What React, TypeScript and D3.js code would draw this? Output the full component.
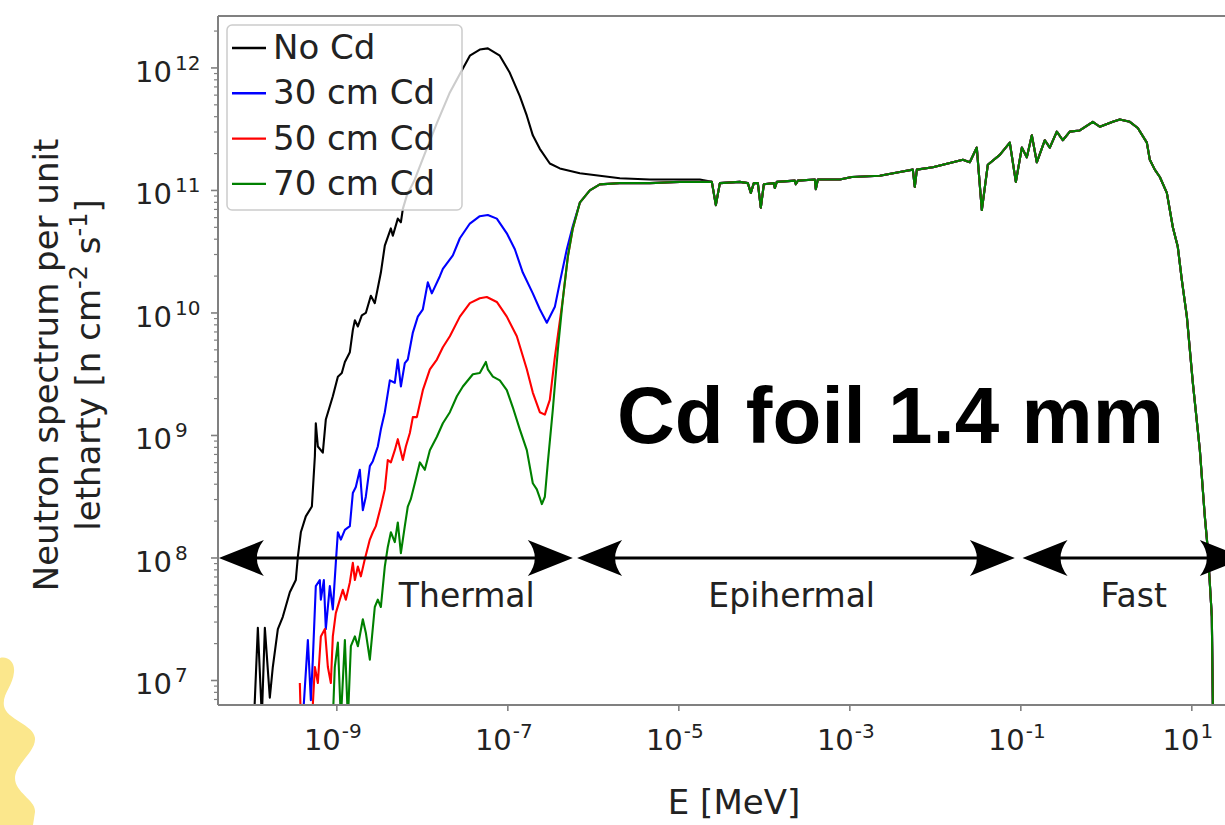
import React from 'react';
import * as d3 from 'd3';

const width = 1225;
const height = 825;
// plot frame in px (right edge runs past the page edge, like the cropped figure)
const frame = { left: 218, right: 1232, top: 16, bottom: 705 };

// axis limits, log10 units
const xLimLog = [-10.39, 1.47];
const yLimLog = [6.8, 12.424];

const seriesNames = ['No Cd', '30 cm Cd', '50 cm Cd', '70 cm Cd'];
const seriesColors = ['#000000', '#0000ff', '#ff0000', '#008000'];

// thermal part of each spectrum, log10(E [MeV]) and log10(flux)
const noCdLogE = [-9.97, -9.924, -9.877, -9.842, -9.784, -9.749, -9.69, -9.632, -9.55, -9.48, -9.456, -9.421, -9.363, -9.292, -9.257, -9.246, -9.222, -9.164, -9.129, -9.047, -8.988, -8.942, -8.906, -8.848, -8.813, -8.789, -8.754, -8.708, -8.661, -8.602, -8.556, -8.485, -8.439, -8.368, -8.345, -8.287, -8.251, -8.228, -8.181, -8.088, -7.994, -7.83, -7.678, -7.561, -7.444, -7.328, -7.234, -7.094, -6.977, -6.86, -6.778, -6.708, -6.626, -6.509, -6.392, -6.158, -5.924, -5.69, -5.339, -4.755];
const noCdLogPhi = [6.66, 7.43, 6.7, 7.43, 6.86, 7.11, 7.42, 7.52, 7.72, 7.82, 8.01, 8.21, 8.34, 8.42, 8.83, 9.1, 8.91, 8.86, 9.13, 9.32, 9.48, 9.51, 9.6, 9.68, 9.86, 9.94, 9.89, 9.98, 10.0, 10.14, 10.08, 10.33, 10.55, 10.69, 10.63, 10.77, 10.74, 10.85, 10.96, 11.09, 11.26, 11.55, 11.8, 11.95, 12.1, 12.15, 12.16, 12.1, 11.96, 11.77, 11.61, 11.45, 11.34, 11.22, 11.18, 11.14, 11.12, 11.1, 11.09, 11.09];

const cd30LogE = [-9.398, -9.339, -9.304, -9.281, -9.246, -9.199, -9.187, -9.152, -9.129, -9.082, -9.047, -9.012, -8.988, -8.953, -8.906, -8.848, -8.813, -8.778, -8.731, -8.696, -8.661, -8.614, -8.579, -8.521, -8.485, -8.439, -8.38, -8.322, -8.287, -8.251, -8.205, -8.17, -8.111, -8.053, -7.994, -7.936, -7.889, -7.795, -7.76, -7.643, -7.561, -7.444, -7.328, -7.234, -7.129, -7.012, -6.918, -6.825, -6.708, -6.626, -6.544, -6.45, -6.392, -6.31, -6.24, -6.158, -6.041];
const cd30LogPhi = [6.68, 7.33, 6.84, 7.17, 7.77, 7.82, 7.66, 7.82, 7.42, 7.77, 7.58, 7.96, 8.21, 8.15, 8.23, 8.26, 8.53, 8.58, 8.72, 8.39, 8.5, 8.75, 8.79, 8.91, 9.05, 9.19, 9.45, 9.43, 9.62, 9.4, 9.59, 9.62, 9.84, 9.97, 10.03, 10.25, 10.16, 10.3, 10.36, 10.47, 10.61, 10.73, 10.79, 10.8, 10.77, 10.65, 10.52, 10.33, 10.16, 10.03, 9.92, 10.05, 10.25, 10.52, 10.71, 10.9, 11.0];

const cd50LogE = [-9.433, -9.421, -9.292, -9.257, -9.222, -9.187, -9.14, -9.105, -9.07, -9.047, -9.012, -8.965, -8.93, -8.895, -8.848, -8.813, -8.789, -8.754, -8.719, -8.673, -8.614, -8.579, -8.544, -8.485, -8.439, -8.404, -8.368, -8.322, -8.287, -8.228, -8.193, -8.146, -8.111, -8.064, -7.994, -7.912, -7.83, -7.76, -7.678, -7.561, -7.444, -7.328, -7.246, -7.129, -7.012, -6.895, -6.778, -6.708, -6.626, -6.567, -6.509, -6.45, -6.357, -6.298, -6.24, -6.158, -6.041];
const cd50LogPhi = [6.98, 6.68, 6.66, 7.11, 6.98, 7.36, 7.42, 7.11, 6.98, 7.36, 7.55, 7.66, 7.74, 7.66, 7.8, 7.96, 7.82, 7.93, 7.85, 7.99, 8.15, 8.21, 8.26, 8.42, 8.56, 8.8, 8.78, 8.88, 8.97, 8.8, 8.91, 9.02, 9.15, 9.15, 9.37, 9.54, 9.62, 9.72, 9.81, 9.97, 10.08, 10.12, 10.13, 10.09, 9.97, 9.81, 9.54, 9.35, 9.19, 9.17, 9.29, 9.64, 10.11, 10.46, 10.69, 10.9, 11.0];

const cd70LogE = [-9.047, -9.024, -8.988, -8.953, -8.906, -8.871, -8.836, -8.789, -8.754, -8.696, -8.661, -8.614, -8.556, -8.521, -8.485, -8.439, -8.404, -8.368, -8.322, -8.287, -8.251, -8.205, -8.17, -8.135, -8.088, -8.029, -7.971, -7.912, -7.83, -7.76, -7.678, -7.596, -7.526, -7.409, -7.328, -7.257, -7.234, -7.175, -7.094, -7.012, -6.942, -6.86, -6.778, -6.708, -6.661, -6.626, -6.602, -6.567, -6.532, -6.474, -6.415, -6.357, -6.298, -6.24, -6.158, -6.041];
const cd70LogPhi = [6.68, 7.11, 7.31, 6.68, 7.33, 6.68, 7.28, 7.36, 7.28, 7.5, 7.39, 7.17, 7.6, 7.66, 7.6, 7.93, 8.09, 8.21, 8.13, 8.29, 8.04, 8.26, 8.42, 8.48, 8.61, 8.78, 8.72, 8.88, 8.99, 9.1, 9.19, 9.32, 9.4, 9.5, 9.51, 9.6, 9.54, 9.48, 9.45, 9.37, 9.23, 9.05, 8.88, 8.61, 8.56, 8.49, 8.44, 8.5, 8.78, 9.21, 9.7, 10.11, 10.46, 10.69, 10.9, 11.0];

// epithermal + fast part, where all four curves lie on top of each other
const sharedLogE = [-5.924, -5.69, -5.339, -4.988, -4.614, -4.567, -4.52, -4.287, -4.193, -4.158, -4.123, -4.076, -4.041, -4.006, -3.889, -3.877, -3.854, -3.643, -3.632, -3.608, -3.409, -3.398, -3.374, -3.117, -2.977, -2.649, -2.415, -2.263, -2.24, -2.216, -2.029, -1.678, -1.597, -1.515, -1.456, -1.386, -1.246, -1.129, -1.058, -0.988, -0.93, -0.871, -0.813, -0.719, -0.661, -0.579, -0.509, -0.427, -0.31, -0.158, -0.076, 0.076, 0.158, 0.275, 0.368, 0.474, 0.509, 0.567, 0.626, 0.708, 0.778, 0.836, 0.883, 0.942, 1.012, 1.094, 1.152, 1.187, 1.234, 1.246, 1.26];
const sharedLogPhi = [11.05, 11.06, 11.06, 11.07, 11.07, 10.88, 11.06, 11.07, 11.06, 10.98, 11.06, 11.06, 10.86, 11.05, 11.06, 11.02, 11.07, 11.08, 11.05, 11.08, 11.09, 11.01, 11.09, 11.09, 11.11, 11.12, 11.15, 11.17, 11.03, 11.17, 11.19, 11.25, 11.23, 11.35, 10.84, 11.21, 11.29, 11.39, 11.07, 11.35, 11.27, 11.45, 11.23, 11.41, 11.35, 11.48, 11.41, 11.48, 11.49, 11.56, 11.52, 11.56, 11.58, 11.56, 11.51, 11.39, 11.25, 11.17, 11.11, 10.98, 10.7, 10.54, 10.27, 9.97, 9.43, 8.88, 8.34, 8.07, 7.52, 6.8, 6.35];

const yTickExps = [7, 8, 9, 10, 11, 12];
const xTickExps = [-9, -7, -5, -3, -1, 1];

// energy ranges marked with double arrows at flux 1e8
const rangeLabels = ['Thermal', 'Epihermal', 'Fast'];
const rangeFromLogE = [-10.38, -6.19, -0.98];
const rangeToLogE = [-6.24, -1.07, 1.62];
const rangeLabelLogE = [-7.48, -3.68, 0.32];
const rangeArrowLogPhi = 8;

const font = 'DejaVu Sans, Verdana, sans-serif';

const buildSeries = (logE, logPhi) => {
  const last = logE[logE.length - 1];
  const own = logE.map((e, i) => ({ E: 10 ** e, phi: 10 ** logPhi[i] }));
  const rest = sharedLogE
    .map((e, i) => ({ le: e, E: 10 ** e, phi: 10 ** sharedLogPhi[i] }))
    .filter(d => d.le > last)
    .map(d => ({ E: d.E, phi: d.phi }));
  return own.concat(rest);
};

const seriesData = [
  buildSeries(noCdLogE, noCdLogPhi),
  buildSeries(cd30LogE, cd30LogPhi),
  buildSeries(cd50LogE, cd50LogPhi),
  buildSeries(cd70LogE, cd70LogPhi),
];

const arrowHead = (tip, y, dir) =>
  `M${tip},${y} L${tip - dir * 45},${y - 18} Q${tip - dir * 31},${y} ${tip - dir * 45},${y + 18} Z`;

export default function App() {
  const x = d3.scaleLog()
    .domain([10 ** xLimLog[0], 10 ** xLimLog[1]])
    .range([frame.left, frame.right]);
  const y = d3.scaleLog()
    .domain([10 ** yLimLog[0], 10 ** yLimLog[1]])
    .range([frame.bottom, frame.top]);

  const line = d3.line().x(d => x(d.E)).y(d => y(d.phi));

  const minorY = [];
  for (let e = 6; e <= 12; e++) {
    for (let m = 2; m <= 9; m++) {
      const v = m * 10 ** e;
      if (v > y.domain()[0] && v < y.domain()[1]) minorY.push(v);
    }
  }

  const spine = '#808080';
  const arrowY = y(10 ** rangeArrowLogPhi);

  return (
    <svg width={width} height={height} style={{ position: 'absolute', left: 0, top: 0, background: '#fff' }}>
      <defs>
        <clipPath id="plotClip">
          <rect x={frame.left} y={frame.top} width={frame.right - frame.left} height={frame.bottom - frame.top} />
        </clipPath>
      </defs>

      {/* yellow decoration, bottom left */}
      <path
        d="M0,658 C8,656 15,662 14,672 C13,686 2,694 4,706 C6,719 34,725 35,738 C36,752 15,764 15,778 C15,793 36,800 35,812 L33,825 L0,825 Z"
        fill="#fbe78c"
      />

      {/* data */}
      <g clipPath="url(#plotClip)">
        {seriesData.map((s, i) => (
          <path key={seriesNames[i]} d={line(s)} fill="none" stroke={seriesColors[i]} strokeWidth={2.1} strokeLinejoin="round" />
        ))}
      </g>

      {/* spines */}
      <line x1={frame.left} x2={frame.left} y1={frame.top} y2={frame.bottom} stroke={spine} strokeWidth={2} />
      <line x1={frame.left} x2={frame.right} y1={frame.bottom} y2={frame.bottom} stroke={spine} strokeWidth={2} />
      <line x1={frame.left} x2={frame.right} y1={frame.top} y2={frame.top} stroke={spine} strokeWidth={2} />

      {/* y ticks */}
      {minorY.map(v => (
        <line key={v} x1={frame.left - 4} x2={frame.left} y1={y(v)} y2={y(v)} stroke={spine} strokeWidth={1.2} />
      ))}
      {yTickExps.map(e => (
        <g key={e}>
          <line x1={frame.left - 7} x2={frame.left} y1={y(10 ** e)} y2={y(10 ** e)} stroke={spine} strokeWidth={1.6} />
          <text x={135} y={y(10 ** e) + 14} fontFamily={font} fontSize={29} fill="#222">
            10<tspan dx={3} dy={-12} fontSize={20}>{e}</tspan>
          </text>
        </g>
      ))}

      {/* x ticks */}
      {xTickExps.map(e => (
        <g key={e}>
          <line x1={x(10 ** e)} x2={x(10 ** e)} y1={frame.bottom} y2={frame.bottom + 6} stroke={spine} strokeWidth={1.6} />
          <text x={x(10 ** e) - 4} y={750} textAnchor="middle" fontFamily={font} fontSize={29} fill="#222">
            10<tspan dx={1} dy={-12} fontSize={20}>{e < 0 ? '-' + Math.abs(e) : String(e)}</tspan>
          </text>
        </g>
      ))}

      {/* axis labels */}
      <text x={734} y={814} textAnchor="middle" fontFamily={font} fontSize={34} fill="#222">E [MeV]</text>
      <g transform="translate(58,365) rotate(-90)">
        <text x={0} y={0} textAnchor="middle" fontFamily={font} fontSize={34} fill="#222">Neutron spectrum per unit</text>
        <text x={0} y={42} textAnchor="middle" fontFamily={font} fontSize={34} fill="#222">
          letharty [n cm<tspan dy={-13} fontSize={24}>-2</tspan><tspan dy={13}> s</tspan><tspan dy={-13} fontSize={24}>-1</tspan><tspan dy={13}>]</tspan>
        </text>
      </g>

      {/* energy range arrows */}
      {rangeLabels.map((lab, i) => {
        const a = x(10 ** rangeFromLogE[i]);
        const b = x(10 ** rangeToLogE[i]);
        return (
          <g key={lab}>
            <line x1={a + 20} x2={b - 20} y1={arrowY} y2={arrowY} stroke="#000" strokeWidth={3} />
            <path d={arrowHead(a, arrowY, -1)} fill="#000" />
            <path d={arrowHead(b, arrowY, 1)} fill="#000" />
            <text x={x(10 ** rangeLabelLogE[i])} y={arrowY + 49} textAnchor="middle" fontFamily={font} fontSize={33} fill="#222">{lab}</text>
          </g>
        );
      })}

      {/* annotation */}
      <text x={617} y={443} fontFamily="Liberation Sans, Arial, sans-serif" fontWeight="bold" fontSize={80} fill="#000">Cd foil 1.4 mm</text>

      {/* legend */}
      <rect x={227} y={25} width={235} height={185} rx={5} fill="#fff" fillOpacity={0.8} stroke="#cccccc" strokeWidth={1.5} />
      {seriesNames.map((n, i) => {
        const ly = 48 + i * 45.3;
        return (
          <g key={n}>
            <line x1={232} x2={266} y1={ly} y2={ly} stroke={seriesColors[i]} strokeWidth={2.4} />
            <text x={273} y={ly + 11} fontFamily={font} fontSize={34} fill="#222">{n}</text>
          </g>
        );
      })}
    </svg>
  );
}
